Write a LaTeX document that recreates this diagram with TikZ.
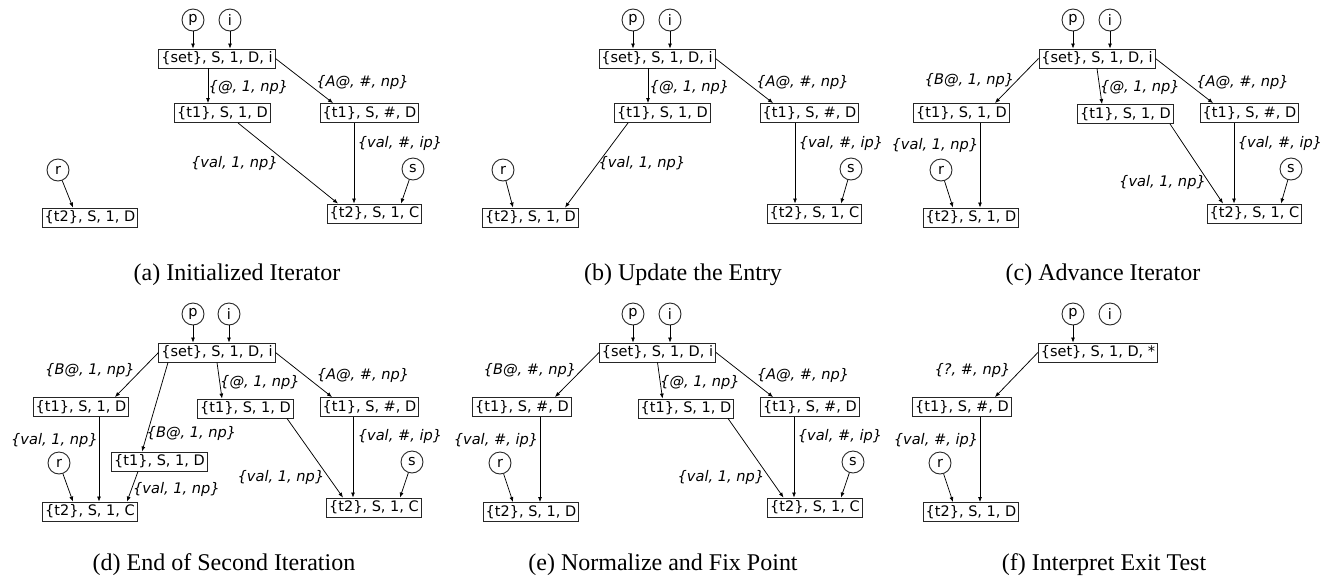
\documentclass[tikz,border=0pt]{standalone}
\usepackage{fontspec}
\setmainfont{Liberation Serif}
\newfontfamily\dejavu{DejaVu Sans}
\usetikzlibrary{arrows.meta}

\tikzset{
  riq/.style={draw=black!85, line width=0.9pt, inner sep=2.5pt,
    text height=11pt, text depth=3pt, font=\dejavu\fontsize{14.5}{16}\selectfont},
  cerchio/.style={circle, draw=black!85, line width=0.9pt, minimum size=22pt,
    inner sep=0pt, font=\dejavu\fontsize{14.5}{16}\selectfont},
  etich/.style={inner sep=0pt, font=\dejavu\itshape\fontsize{14.6}{16}\selectfont},
  freccia/.style={-{Latex[length=5pt,width=4pt]}, line width=0.75pt},
  didasc/.style={font=\fontsize{24}{27}\selectfont}
}

\begin{document}
\begin{tikzpicture}[x=1pt, y=-1pt]
  \useasboundingbox (0,0) rectangle (1323,579);

  % (a) iteratore inizializzato
  \begin{scope}[name prefix=a-]
    \node[cerchio] (p) at (193,20) {p};
    \node[cerchio] (i) at (230,20) {i};
    \node[riq] (set) at (217,58.5) {\{set\}, S, 1, D, i};
    \node[riq] (t1a) at (222.5,113) {\{t1\}, S, 1, D};
    \node[riq] (t1b) at (369.5,113) {\{t1\}, S, \#, D};
    \node[cerchio] (r) at (58,170) {r};
    \node[riq] (t2a) at (90,217.5) {\{t2\}, S, 1, D};
    \node[cerchio] (s) at (413,169) {s};
    \node[riq] (t2b) at (374.5,213.5) {\{t2\}, S, 1, C};
    % archi
    \draw[freccia] (p) -- (p |- set.north);
    \draw[freccia] (i) -- (i |- set.north);
    \draw[freccia] ([xshift=-9pt]set.south) -- ([xshift=-14.5pt]t1a.north);
    \draw[freccia] (set.east) -- ([xshift=-36.5pt]t1b.north);
    \draw[freccia] ([xshift=15.5pt]t1a.south) -- ([xshift=-36.5pt]t2b.north);
    \draw[freccia] ([xshift=-15.5pt]t1b.south) -- ([xshift=-20.5pt]t2b.north);
    \draw[freccia] (s) -- ([xshift=26.5pt]t2b.north);
    \draw[freccia] (r) -- ([xshift=-17pt]t2a.north);
    % etichette
    \node[etich] (l1) at (248.5,87) {\{@, 1, np\}};
    \node[etich] (l2) at (362.5,82) {\{A@, \#, np\}};
    \node[etich] (l3) at (234.5,163) {\{val, 1, np\}};
    \node[etich] (l4) at (400,143) {\{val, \#, ip\}};
    \node[didasc] (cap) at (237,275) {(a) Initialized Iterator};
  \end{scope}

  % (b) aggiornamento della voce
  \begin{scope}[shift={(440,0)}, name prefix=b-]
    \node[cerchio] (p) at (193,20) {p};
    \node[cerchio] (i) at (230,20) {i};
    \node[riq] (set) at (217,58.5) {\{set\}, S, 1, D, i};
    \node[riq] (t1a) at (222.5,113) {\{t1\}, S, 1, D};
    \node[riq] (t1b) at (369.5,113) {\{t1\}, S, \#, D};
    \node[cerchio] (r) at (63,170) {r};
    \node[riq] (t2a) at (90.5,217.5) {\{t2\}, S, 1, D};
    \node[cerchio] (s) at (411,169) {s};
    \node[riq] (t2b) at (374.5,213.5) {\{t2\}, S, 1, C};
    % archi
    \draw[freccia] (p) -- (p |- set.north);
    \draw[freccia] (i) -- (i |- set.north);
    \draw[freccia] ([xshift=-9pt]set.south) -- ([xshift=-14.5pt]t1a.north);
    \draw[freccia] (set.east) -- ([xshift=-36.5pt]t1b.north);
    \draw[freccia] ([xshift=-34.5pt]t1a.south) -- ([xshift=34.5pt]t2a.north);
    \draw[freccia] ([xshift=-14.5pt]t1b.south) -- ([xshift=-19.5pt]t2b.north);
    \draw[freccia] (s) -- ([xshift=26.5pt]t2b.north);
    \draw[freccia] (r) -- ([xshift=-17.5pt]t2a.north);
    % etichette
    \node[etich] (l1) at (249.5,87) {\{@, 1, np\}};
    \node[etich] (l2) at (362.5,82) {\{A@, \#, np\}};
    \node[etich] (l3) at (202,163) {\{val, 1, np\}};
    \node[etich] (l4) at (401,143) {\{val, \#, ip\}};
    \node[didasc] (cap) at (243,275) {(b) Update the Entry};
  \end{scope}

  % (c) avanzamento dell'iteratore
  \begin{scope}[shift={(880,0)}, name prefix=c-]
    \node[cerchio] (p) at (193,20) {p};
    \node[cerchio] (i) at (230,20) {i};
    \node[riq] (set) at (217,58.5) {\{set\}, S, 1, D, i};
    \node[riq] (t1a) at (81.5,113) {\{t1\}, S, 1, D};
    \node[riq] (t1m) at (245.5,114) {\{t1\}, S, 1, D};
    \node[riq] (t1b) at (369.5,113) {\{t1\}, S, \#, D};
    \node[cerchio] (r) at (61,170) {r};
    \node[riq] (t2a) at (91,217.5) {\{t2\}, S, 1, D};
    \node[cerchio] (s) at (411,169) {s};
    \node[riq] (t2b) at (374.5,213.5) {\{t2\}, S, 1, C};
    % archi
    \draw[freccia] (p) -- (p |- set.north);
    \draw[freccia] (i) -- (i |- set.north);
    \draw[freccia] (set.west) -- ([xshift=33.5pt]t1a.north);
    \draw[freccia] (set.south) -- ([xshift=-23.5pt]t1m.north);
    \draw[freccia] (set.east) -- ([xshift=-36.5pt]t1b.north);
    \draw[freccia] ([xshift=18.5pt]t1a.south) -- ([xshift=9pt]t2a.north);
    \draw[freccia] ([xshift=44.5pt]t1m.south) -- ([xshift=-31.5pt]t2b.north);
    \draw[freccia] ([xshift=-15.5pt]t1b.south) -- ([xshift=-20.5pt]t2b.north);
    \draw[freccia] (r) -- ([xshift=-18pt]t2a.north);
    \draw[freccia] (s) -- ([xshift=26.5pt]t2b.north);
    % etichette
    \node[etich] (l1) at (89.5,80) {\{B@, 1, np\}};
    \node[etich] (l2) at (260,87) {\{@, 1, np\}};
    \node[etich] (l3) at (362.5,82) {\{A@, \#, np\}};
    \node[etich] (l4) at (55,145) {\{val, 1, np\}};
    \node[etich] (l5) at (282.5,182) {\{val, 1, np\}};
    \node[etich] (l6) at (400,143) {\{val, \#, ip\}};
    \node[didasc] (cap) at (223,275) {(c) Advance Iterator};
  \end{scope}

  % (d) fine della seconda iterazione
  \begin{scope}[shift={(0,294)}, name prefix=d-]
    \node[cerchio] (p) at (193,20) {p};
    \node[cerchio] (i) at (229,20) {i};
    \node[riq] (set) at (217,58.5) {\{set\}, S, 1, D, i};
    \node[riq] (t1a) at (81,113) {\{t1\}, S, 1, D};
    \node[riq] (t1m) at (245.5,114.5) {\{t1\}, S, 1, D};
    \node[riq] (t1b) at (369.5,113) {\{t1\}, S, \#, D};
    \node[riq] (t1l) at (159.5,167.5) {\{t1\}, S, 1, D};
    \node[cerchio] (r) at (59,169) {r};
    \node[riq] (t2a) at (90,217.5) {\{t2\}, S, 1, C};
    \node[cerchio] (s) at (412,168) {s};
    \node[riq] (t2b) at (374,213.5) {\{t2\}, S, 1, C};
    % archi
    \draw[freccia] (p) -- (p |- set.north);
    \draw[freccia] (i) -- (i |- set.north);
    \draw[freccia] (set.west) -- ([xshift=34pt]t1a.north);
    \draw[freccia] ([xshift=-49pt]set.south) -- ([xshift=-17.5pt]t1l.north);
    \draw[freccia] (set.south) -- ([xshift=-23.5pt]t1m.north);
    \draw[freccia] (set.east) -- ([xshift=-37.5pt]t1b.north);
    \draw[freccia] ([xshift=18pt]t1a.south) -- ([xshift=9pt]t2a.north);
    \draw[freccia] ([xshift=-21.5pt]t1l.south) -- ([xshift=37pt]t2a.north);
    \draw[freccia] ([xshift=41.5pt]t1m.south) -- ([xshift=-31pt]t2b.north);
    \draw[freccia] ([xshift=-16.5pt]t1b.south) -- ([xshift=-21pt]t2b.north);
    \draw[freccia] (r) -- ([xshift=-17pt]t2a.north);
    \draw[freccia] (s) -- ([xshift=26pt]t2b.north);
    % etichette
    \node[etich] (l1) at (90,76) {\{B@, 1, np\}};
    \node[etich] (l2) at (191.5,139) {\{B@, 1, np\}};
    \node[etich] (l3) at (260,88) {\{@, 1, np\}};
    \node[etich] (l4) at (363,81) {\{A@, \#, np\}};
    \node[etich] (l5) at (54.5,146) {\{val, 1, np\}};
    \node[etich] (l6) at (176.5,195) {\{val, 1, np\}};
    \node[etich] (l7) at (281,183) {\{val, 1, np\}};
    \node[etich] (l8) at (400,142) {\{val, \#, ip\}};
    \node[didasc] (cap) at (224,271) {(d) End of Second Iteration};
  \end{scope}

  % (e) normalizzazione e punto fisso
  \begin{scope}[shift={(440,294)}, name prefix=e-]
    \node[cerchio] (p) at (193,20) {p};
    \node[cerchio] (i) at (230,20) {i};
    \node[riq] (set) at (217.5,58.5) {\{set\}, S, 1, D, i};
    \node[riq] (t1a) at (82,113) {\{t1\}, S, \#, D};
    \node[riq] (t1m) at (246,114.5) {\{t1\}, S, 1, D};
    \node[riq] (t1b) at (370,113) {\{t1\}, S, \#, D};
    \node[cerchio] (r) at (60,169) {r};
    \node[riq] (t2a) at (91,218) {\{t2\}, S, 1, D};
    \node[cerchio] (s) at (413,168) {s};
    \node[riq] (t2b) at (375,213.5) {\{t2\}, S, 1, C};
    % archi
    \draw[freccia] (p) -- (p |- set.north);
    \draw[freccia] (i) -- (i |- set.north);
    \draw[freccia] (set.west) -- ([xshift=33pt]t1a.north);
    \draw[freccia] (set.south) -- ([xshift=-23.5pt]t1m.north);
    \draw[freccia] (set.east) -- ([xshift=-37pt]t1b.north);
    \draw[freccia] ([xshift=18pt]t1a.south) -- ([xshift=9pt]t2a.north);
    \draw[freccia] ([xshift=42pt]t1m.south) -- ([xshift=-31.5pt]t2b.north);
    \draw[freccia] ([xshift=-16pt]t1b.south) -- ([xshift=-21pt]t2b.north);
    \draw[freccia] (r) -- ([xshift=-18pt]t2a.north);
    \draw[freccia] (s) -- ([xshift=26pt]t2b.north);
    % etichette
    \node[etich] (l1) at (90,76) {\{B@, \#, np\}};
    \node[etich] (l2) at (260,88) {\{@, 1, np\}};
    \node[etich] (l3) at (363,81) {\{A@, \#, np\}};
    \node[etich] (l4) at (56,146) {\{val, \#, ip\}};
    \node[etich] (l5) at (281,183) {\{val, 1, np\}};
    \node[etich] (l6) at (400,142) {\{val, \#, ip\}};
    \node[didasc] (cap) at (223,271) {(e) Normalize and Fix Point};
  \end{scope}

  % (f) interpretazione del test di uscita
  \begin{scope}[shift={(880,294)}, name prefix=f-]
    \node[cerchio] (p) at (193,20) {p};
    \node[cerchio] (i) at (230,20) {i};
    \node[riq] (set) at (218,58.5) {\{set\}, S, 1, D, *};
    \node[riq] (t1a) at (82,113) {\{t1\}, S, \#, D};
    \node[cerchio] (r) at (60,169) {r};
    \node[riq] (t2a) at (91,218) {\{t2\}, S, 1, D};
    % archi
    \draw[freccia] (p) -- (p |- set.north);
    \draw[freccia] (set.west) -- ([xshift=33pt]t1a.north);
    \draw[freccia] ([xshift=18pt]t1a.south) -- ([xshift=9pt]t2a.north);
    \draw[freccia] (r) -- ([xshift=-18pt]t2a.north);
    % etichette
    \node[etich] (l1) at (92.5,76) {\{?, \#, np\}};
    \node[etich] (l2) at (56,146) {\{val, \#, ip\}};
    \node[didasc] (cap) at (224,271) {(f) Interpret Exit Test};
  \end{scope}
\end{tikzpicture}
\end{document}
